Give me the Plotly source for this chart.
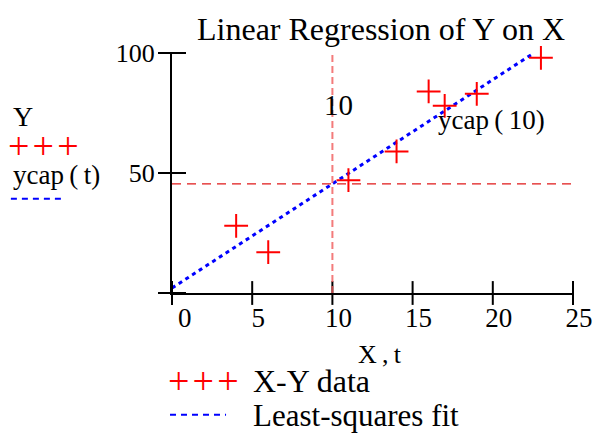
import numpy as np
import plotly.graph_objects as go

# Observed data
x_data = [4, 6, 11, 14, 16, 17, 19, 23]
y_data = [28, 17, 47, 59, 84, 78, 83, 98]

# Range of the fitted line's parameter t
t_range = [0, 22.5]

# Marker position on the X axis
x_marker = 10

# Axis ticks
x_ticks = [0, 5, 10, 15, 20, 25]
y_ticks = [0, 50, 100]
x_range = [0, 25]
y_range = [0, 100]

# Least-squares fit
slope, intercept = np.polyfit(x_data, y_data, 1)


def ycap(t):
    return intercept + slope * np.asarray(t, dtype=float)


t = np.linspace(t_range[0], t_range[1], 200)
y_marker = float(ycap(x_marker))

W, H = 593, 434
L, R, T, B = 172, 20.3, 53.3, 140.7
PW, PH = W - L - R, H - T - B


def px(x):
    return (x - L) / PW


def py(y):
    return (H - B - y) / PH


FONT = "Liberation Serif"

fig = go.Figure()

# Regression line
fig.add_trace(go.Scatter(
    x=t, y=ycap(t), mode="lines",
    line=dict(color="#0000ff", width=3, dash="4px,4px"),
    hoverinfo="skip", showlegend=False,
))

# Data points
fig.add_trace(go.Scatter(
    x=x_data, y=y_data, mode="markers",
    marker=dict(symbol="cross-thin", size=17, line=dict(color="#ff0000", width=2)),
    cliponaxis=False, showlegend=False,
))

# Marker lines at x = 10 and y = ycap(10)
fig.add_shape(type="line", xref="x", yref="y",
              x0=x_marker, x1=x_marker, y0=y_range[0], y1=y_range[1],
              line=dict(color="rgba(240,90,90,0.8)", width=2, dash="7px,4px"))
fig.add_shape(type="line", xref="x", yref="y",
              x0=x_range[0], x1=x_range[1], y0=y_marker, y1=y_marker,
              line=dict(color="#e01818", width=1.4, dash="9px,6px"))

# Crossing tick marks on both axes
fig.add_trace(go.Scatter(
    x=x_ticks, y=[0] * len(x_ticks), mode="markers",
    marker=dict(symbol="line-ns", size=17, line=dict(color="black", width=2)),
    cliponaxis=False, hoverinfo="skip", showlegend=False,
))
fig.add_trace(go.Scatter(
    x=[0] * len(y_ticks), y=y_ticks, mode="markers",
    marker=dict(symbol="line-ew", size=20, line=dict(color="black", width=2)),
    cliponaxis=False, hoverinfo="skip", showlegend=False,
))

x_ticktext = ["\u00a0\u00a0" + str(x_ticks[0])] + [str(v) for v in x_ticks[1:]]

fig.update_layout(
    width=W, height=H,
    margin=dict(l=L, r=R, t=T, b=B, pad=0),
    paper_bgcolor="white", plot_bgcolor="white",
    font=dict(family=FONT, color="black", size=28),
    showlegend=False,
    xaxis=dict(
        range=x_range, tickvals=x_ticks, ticktext=x_ticktext,
        showgrid=False, zeroline=False, showline=True, automargin=False,
        linecolor="black", linewidth=2, ticks="",
        ticklabelshift=6, ticklabelstandoff=0,
        tickfont=dict(family=FONT, size=27, color="black"),
    ),
    yaxis=dict(
        range=y_range, tickvals=y_ticks[1:],
        showgrid=False, zeroline=False, showline=True, automargin=False,
        linecolor="black", linewidth=2, ticks="",
        ticklabelstandoff=10,
        tickfont=dict(family=FONT, size=26, color="black"),
    ),
)


def note(text, x, y, size=30, color="black", xanchor="center", xref="paper", yref="paper"):
    fig.add_annotation(text=text, x=x, y=y, xref=xref, yref=yref,
                       xanchor=xanchor, yanchor="middle", showarrow=False,
                       font=dict(family=FONT, size=size, color=color))


CROSSES = "+\u200a+\u200a+"

# Title
note("Linear Regression of Y on X", px(381), py(29), size=32)

# Marker labels
fig.add_annotation(text=str(x_marker), x=x_marker, y=y_range[1], xref="x", yref="y",
                   xanchor="center", yanchor="middle", xshift=6, yshift=-52,
                   showarrow=False, font=dict(family=FONT, size=29, color="black"))
note("ycap\u2009(\u2009" + str(x_marker) + ")", px(436), py(120), size=27, xanchor="left")

# Axis labels
note("X\u2009,\u2009t", px(356), py(355), size=26, xanchor="left")

# Y-axis trace labels
note("Y", px(11), py(117), size=28, xanchor="left")
note(CROSSES, px(6), py(146), size=38, color="#ff0000", xanchor="left")
note("ycap\u2009(\u2009t)", px(11), py(175), size=27, xanchor="left")
fig.add_shape(type="line", xref="paper", yref="paper",
              x0=px(11), x1=px(65), y0=py(199), y1=py(199),
              line=dict(color="#0000ff", width=2, dash="6px,5px"))

# Bottom legend
note(CROSSES, px(166), py(381), size=38, color="#ff0000", xanchor="left")
note("X-Y data", px(251), py(381), size=32, xanchor="left")
fig.add_shape(type="line", xref="paper", yref="paper",
              x0=px(170), x1=px(226), y0=py(415), y1=py(415),
              line=dict(color="#0000ff", width=2, dash="6px,5px"))
note("Least-squares fit", px(251), py(416), size=31, xanchor="left")

fig.write_html("out.html")
